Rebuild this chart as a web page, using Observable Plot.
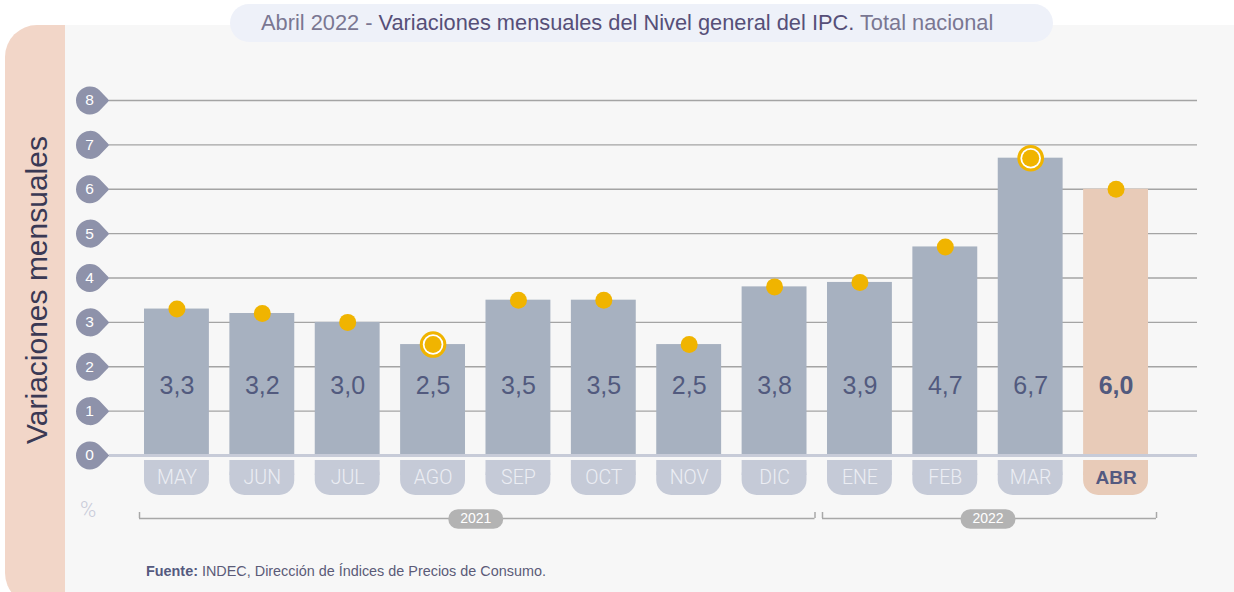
<!DOCTYPE html>
<html>
<head>
<meta charset="utf-8">
<script src="https://cdn.jsdelivr.net/npm/d3@7"></script>
<script src="https://cdn.jsdelivr.net/npm/@observablehq/plot@0.6"></script>
<style>
  html, body { margin: 0; padding: 0; background: #ffffff; }
  #wrap { position: relative; width: 1234px; height: 592px; overflow: hidden; font-family: "Liberation Sans", Arial, sans-serif; }
  #gray { position: absolute; left: 65px; top: 25px; width: 1169px; height: 567px; background: #f7f7f7; }
  #side { position: absolute; left: 5px; top: 25px; width: 60px; height: 580px; background: #f2d6c8; border-radius: 32px 0 0 32px; }
  #sidelabel { position: absolute; left: 37px; top: 290px; transform: translate(-50%, -50%) rotate(-90deg); white-space: nowrap; font-size: 30px; color: #3a3954; }
  #title { position: absolute; left: 230px; top: 4px; width: 823px; height: 38px; border-radius: 19px; background: #eef1f9; }
  #titletext { position: absolute; left: 261px; top: 4px; line-height: 38px; font-size: 21.8px; white-space: nowrap; font-family: "Liberation Sans", Arial, sans-serif; }
  #titletext .l { color: #7a7792; }
  #titletext .m { color: #564f78; }
  #pct { position: absolute; left: 80px; top: 497px; font-size: 22px; color: #c8cbd9; font-family: Roboto, sans-serif; font-weight: 300; }
  #footer { position: absolute; left: 146px; top: 563px; font-size: 14.4px; color: #5b5b78; white-space: nowrap; }
  #footer b { color: #555a80; }
  #chart { position: absolute; left: 0; top: 0; }
</style>
</head>
<body>
<div id="wrap">
  <div id="gray"></div>
  <div id="side"></div>
  <div id="sidelabel">Variaciones mensuales</div>
  <div id="title"></div>
  <div id="titletext"><span class="l">Abril 2022 - </span><span class="m">Variaciones mensuales del Nivel general del IPC.</span><span class="l"> Total nacional</span></div>
  <div id="pct">%</div>
  <div id="footer"><b>Fuente:</b> INDEC, Dirección de Índices de Precios de Consumo.</div>
  <div id="chart"></div>
</div>
<script>
// ---- data ----
const months = ["MAY", "JUN", "JUL", "AGO", "SEP", "OCT", "NOV", "DIC", "ENE", "FEB", "MAR", "ABR"];
const values = [3.3, 3.2, 3.0, 2.5, 3.5, 3.5, 2.5, 3.8, 3.9, 4.7, 6.7, 6.0];
const years = ["2021", "2021", "2021", "2021", "2021", "2021", "2021", "2021", "2022", "2022", "2022", "2022"];
const yTicks = [0, 1, 2, 3, 4, 5, 6, 7, 8];
const ringed = ["AGO", "MAR"];
const currentMonth = "ABR";

// ---- derived table ----
const data = months.map((m, i) => ({
  month: m,
  value: values[i],
  year: years[i],
  label: values[i].toFixed(1).replace(".", ","),
  current: m === currentMonth,
  ring: ringed.includes(m)
}));
const yearGroups = d3.groups(data, d => d.year).map(([year, rows]) => ({
  year,
  first: rows[0].month,
  last: rows[rows.length - 1].month,
  mid: rows[Math.floor((rows.length - 1) / 2)].month,
  even: rows.length % 2 === 0
}));

// ---- layout constants ----
const W = 1234, H = 592;
const xRange = [144, 1148];
const padInner = 0.24;
const step = (xRange[1] - xRange[0]) / (months.length - padInner);
const bw = step * (1 - padInner);

const barColor = "#a7b1c0", curColor = "#e8cbb8";
const tabColor = "#c5cad7";
const yellow = "#f0b400";
const labelColor = "#525a7e";

const teardrop = {
  draw(ctx, size) {
    const r = Math.sqrt(size / Math.PI);
    const a = 0.85;
    ctx.moveTo(r * 1.38, 0);
    ctx.lineTo(r * Math.cos(a), r * Math.sin(a));
    ctx.arc(0, 0, r, a, 2 * Math.PI - a);
    ctx.closePath();
  }
};
const pill = {
  draw(ctx) {
    const w = 27.5, h = 9.8;
    ctx.moveTo(-w + h, -h);
    ctx.lineTo(w - h, -h);
    ctx.arc(w - h, 0, h, -Math.PI / 2, Math.PI / 2);
    ctx.lineTo(-w + h, h);
    ctx.arc(-w + h, 0, h, Math.PI / 2, 3 * Math.PI / 2);
    ctx.closePath();
  }
};

const plot = Plot.plot({
  width: W,
  height: H,
  marginLeft: 109,
  marginRight: 37,
  marginTop: 0,
  marginBottom: 0,
  style: { background: "transparent", fontFamily: "'Liberation Sans', Arial, sans-serif", overflow: "visible" },
  x: { type: "band", domain: months, range: xRange, paddingInner: padInner, paddingOuter: 0, round: false, axis: null },
  y: { domain: [0, 8], range: [455, 100], axis: null },
  color: { type: "identity" },
  marks: [
    // grid
    Plot.ruleY(yTicks.filter(d => d > 0), { stroke: "#a4a4a4", strokeWidth: 1.4 }),
    // y tick markers
    Plot.dot(yTicks, { y: d => d, frameAnchor: "left", dx: -19.5, r: 14, symbol: teardrop, fill: "#8e92aa" }),
    Plot.text(yTicks, { y: d => d, text: d => String(d), frameAnchor: "left", dx: -20, textAnchor: "middle", fill: "#ffffff", fontSize: 15.5 }),
    // bars
    Plot.barY(data, { x: "month", y: "value", fill: d => d.current ? curColor : barColor }),
    Plot.ruleY([0], { stroke: "#c7cbd8", strokeWidth: 3 }),
    // month tabs
    Plot.barY(data, { x: "month", y1: 0, y2: 0, insetTop: 5, insetBottom: -40, rx: 15, fill: d => d.current ? curColor : tabColor }),
    Plot.barY(data, { x: "month", y1: 0, y2: 0, insetTop: 5, insetBottom: -20, fill: d => d.current ? curColor : tabColor }),
    Plot.text(data.filter(d => !d.current), { x: "month", y: 0, dy: 22, text: "month", fill: "#eceef4", fontSize: 19.5, fontFamily: "Roboto, sans-serif", fontWeight: 300 }),
    Plot.text(data.filter(d => d.current), { x: "month", y: 0, dy: 22, text: "month", fill: "#545a80", fontSize: 19, fontWeight: "bold" }),
    // value labels
    Plot.text(data.filter(d => !d.current), { x: "month", y: 0, dy: -70, text: "label", fill: labelColor, fontSize: 25 }),
    Plot.text(data.filter(d => d.current), { x: "month", y: 0, dy: -70, text: "label", fill: labelColor, fontSize: 25, fontWeight: "bold" }),
    // dots
    Plot.dot(data.filter(d => d.ring), { x: "month", y: "value", r: 11.8, stroke: yellow, strokeWidth: 3, fill: "#ffffff" }),
    Plot.dot(data, { x: "month", y: "value", r: 8.5, fill: yellow }),
    // year brackets
    Plot.ruleY(yearGroups, { x1: "first", x2: "last", y: 0, dy: 63, insetLeft: -5, insetRight: -8, stroke: "#a8a8a8", strokeWidth: 1.5 }),
    Plot.ruleX(yearGroups, { x: "first", y1: 0, y2: 0, dx: -(bw / 2 + 5), insetTop: 57, insetBottom: -63, stroke: "#a8a8a8", strokeWidth: 1.5 }),
    Plot.ruleX(yearGroups, { x: "last", y1: 0, y2: 0, dx: (bw / 2 + 8), insetTop: 57, insetBottom: -63, stroke: "#a8a8a8", strokeWidth: 1.5 }),
    Plot.dot(yearGroups.filter(d => d.even), { x: "mid", y: 0, dy: 63.5, dx: step / 2, symbol: pill, fill: "#b3b3b3" }),
    Plot.text(yearGroups.filter(d => d.even), { x: "mid", y: 0, dy: 63.5, dx: step / 2, text: "year", fill: "#ffffff", fontSize: 14 }),
    Plot.dot(yearGroups.filter(d => !d.even), { x: "mid", y: 0, dy: 63.5, symbol: pill, fill: "#b3b3b3" }),
    Plot.text(yearGroups.filter(d => !d.even), { x: "mid", y: 0, dy: 63.5, text: "year", fill: "#ffffff", fontSize: 14 })
  ]
});
document.getElementById("chart").appendChild(plot);
</script>
</body>
</html>
